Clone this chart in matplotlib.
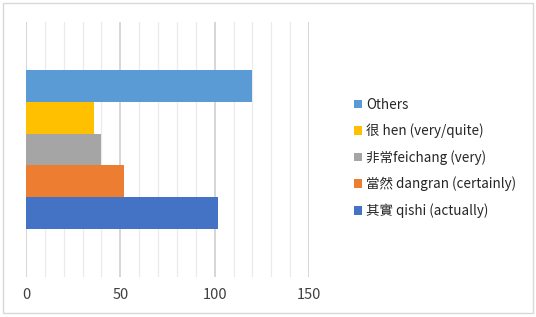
import matplotlib
matplotlib.use("Agg")
import matplotlib.pyplot as plt
from matplotlib.patches import Rectangle

plt.rcParams['font.family'] = ['Noto Sans CJK TC', 'DejaVu Sans']

# series in drawing order (bottom to top)
labels = ["其實 qishi (actually)", "當然 dangran (certainly)", "非常feichang (very)",
          "很 hen (very/quite)", "Others"]
values = [102, 52, 40, 36, 120]
colors = ["#4472C4", "#ED7D31", "#A5A5A5", "#FFC000", "#5B9BD5"]

fig = plt.figure(figsize=(5.36, 3.17), dpi=100)
ax = fig.add_axes([0.0485, 0.126, 0.528, 0.805])

bar_h = 0.125
n = len(values)
handles = []
for i, (lab, v, c) in enumerate(zip(labels, values, colors)):
    y = (i - (n - 1) / 2) * bar_h
    h = ax.barh(y, v, height=bar_h, color=c, label=lab, zorder=3)
    handles.append(h)

ax.set_xlim(0, 150)
ax.set_ylim(-0.5, 0.5)
ax.set_xticks([0, 50, 100, 150])
ax.set_xticks(range(0, 151, 10), minor=True)
ax.set_yticks([])
ax.grid(True, axis="x", which="major", color="#D0D0D0", linewidth=1.2, zorder=0)
ax.grid(True, axis="x", which="minor", color="#EBEBEB", linewidth=0.9, zorder=0)
ax.tick_params(axis="x", which="both", length=0, pad=8, labelsize=10.5, labelcolor="#404040")
for s in ax.spines.values():
    s.set_visible(False)

leg = fig.legend(handles[::-1], labels[::-1], loc="center left",
                 bbox_to_anchor=(0.638, 0.502), frameon=False,
                 fontsize=9.7, handlelength=0.6, handleheight=0.6,
                 handletextpad=0.3, labelspacing=0.88, labelcolor="#262626")

# outer chart border
fig.patches.append(Rectangle((0.006, 0.012), 0.988, 0.978, transform=fig.transFigure,
                             fill=False, edgecolor="#D9D9D9", linewidth=1.0))

fig.savefig("out.png", dpi=100)
